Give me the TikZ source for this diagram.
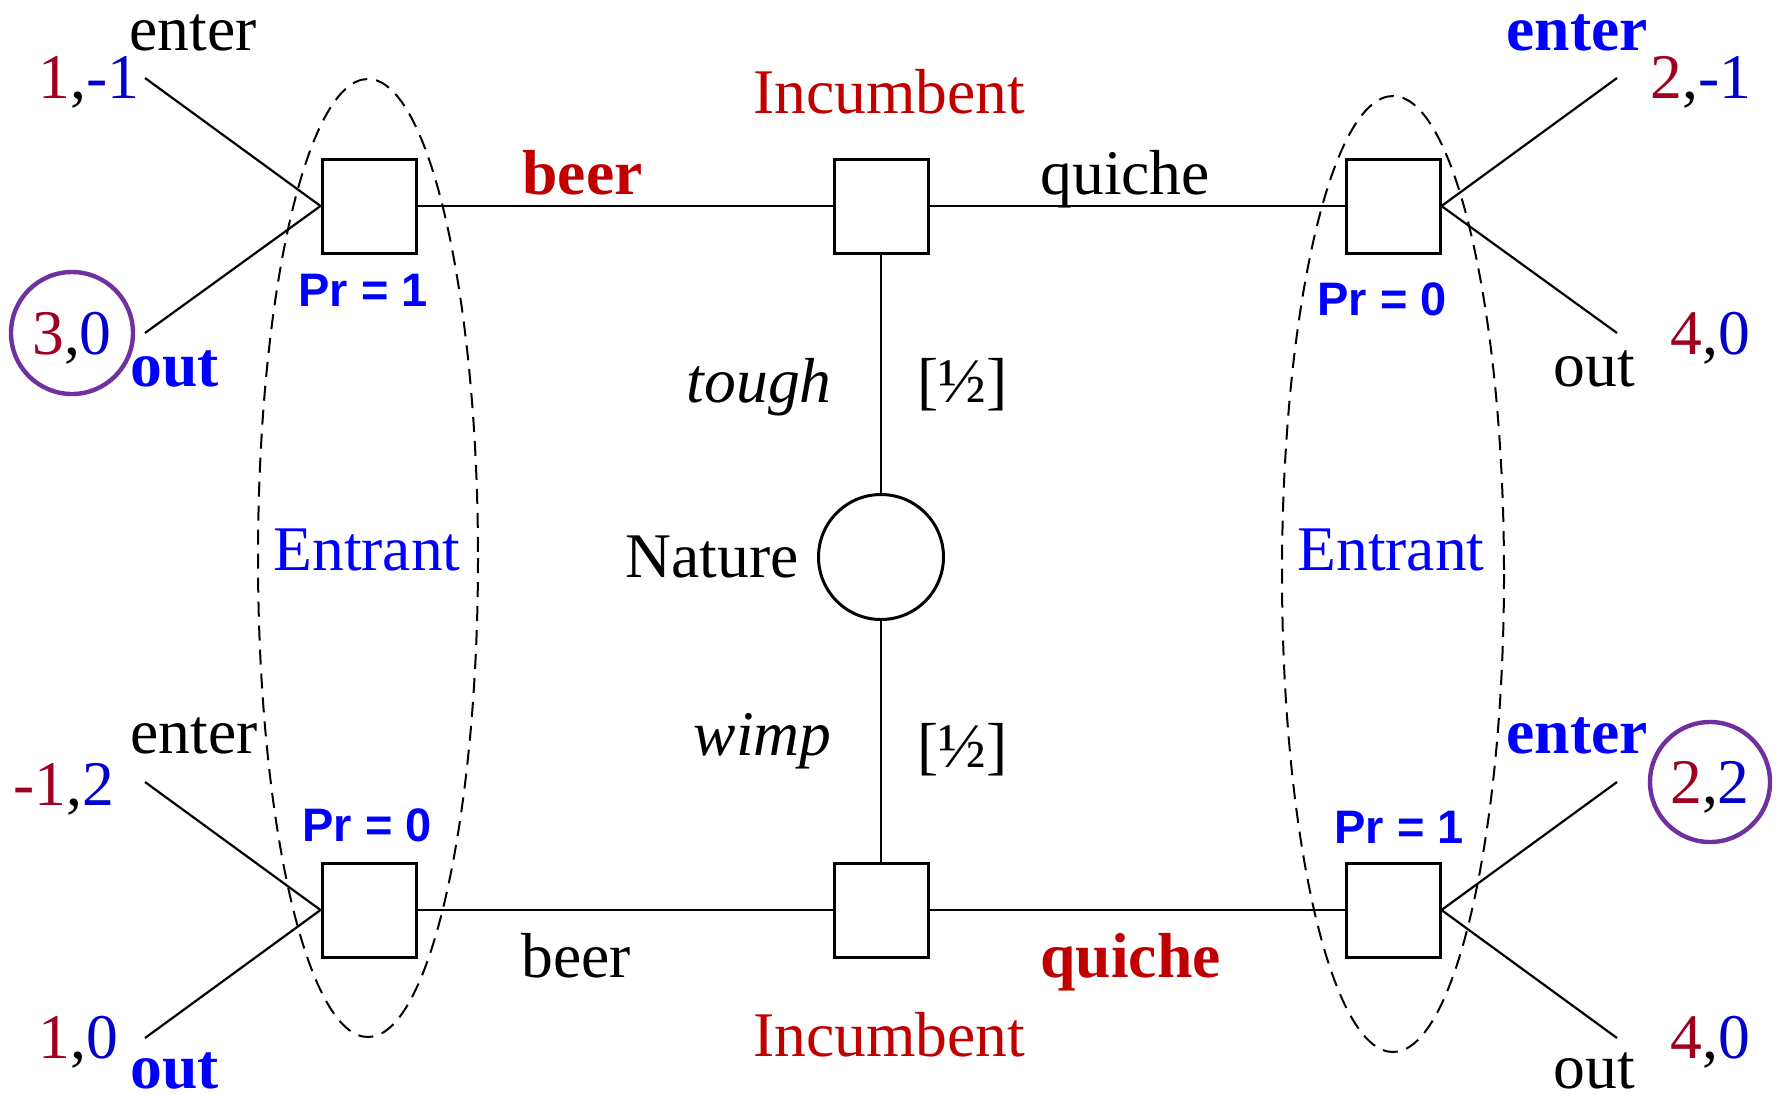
\documentclass[tikz,border=0pt]{standalone}
\usepackage{fontspec}
\setmainfont{Liberation Serif}
\newfontfamily\probfont{Liberation Sans}
\usetikzlibrary{positioning}
\definecolor{IncRed}{RGB}{192, 0, 0}
\definecolor{PayRed}{RGB}{160, 0, 32}
\definecolor{PayBlue}{RGB}{0, 0, 200}
\definecolor{EntBlue}{RGB}{0, 0, 255}
\definecolor{EqPurple}{RGB}{112, 48, 160}

\newcommand{\pay}[2]{{\color{PayRed}#1},{\color{PayBlue}#2}}

\begin{document}
\begin{tikzpicture}[
        x=0.5pt, y=-0.5pt,
        font=\fontsize{31.8}{38}\selectfont,
        decbox/.style={rectangle, draw, line width=1.5pt, minimum size=47pt, inner sep=0pt},
        chance/.style={circle, draw, line width=1.5pt, minimum size=62.5pt, inner sep=0pt},
        infoset/.style={draw, line width=1pt, dash pattern=on 7.5pt off 4.5pt},
        eqring/.style={circle, draw=EqPurple, line width=2.2pt, inner sep=0pt},
        lbl/.style={inner sep=0pt},
        boldlbl/.style={inner sep=0pt, font=\fontsize{31.8}{38}\selectfont\bfseries},
        problbl/.style={inner sep=0pt, text=EntBlue, font=\probfont\bfseries\fontsize{23.5}{28}\selectfont},
        branch/.style={line width=1.1pt}
      ]
        \useasboundingbox (0,0) rectangle (1777,1094);

        % Decision nodes and Nature
        \node[decbox] (tl) at (369,206) {};
        \node[decbox] (tc) at (881,206) {};
        \node[decbox] (tr) at (1393,206) {};
        \node[decbox] (bl) at (369,910) {};
        \node[decbox] (bc) at (881,910) {};
        \node[decbox] (br) at (1393,910) {};
        \node[chance] (nature) at (881,557) {};

        % Terminal points
        \coordinate (tlEnter) at (145,78);
        \coordinate (tlOut) at (145,333);
        \coordinate (blEnter) at (145,782);
        \coordinate (blOut) at (145,1038);
        \coordinate (trEnter) at (1617,78);
        \coordinate (trOut) at (1617,333);
        \coordinate (brEnter) at (1617,782);
        \coordinate (brOut) at (1617,1038);

        % Information sets of the entrant
        \draw[infoset] (368,558) ellipse [x radius=110, y radius=479];
        \draw[infoset] (1393,574) ellipse [x radius=111, y radius=478];

        % Connections
        \draw[branch] (nature) -- (tc);
        \draw[branch] (nature) -- (bc);
        \draw[branch] (tc) -- (tl);
        \draw[branch] (tc) -- (tr);
        \draw[branch] (bc) -- (bl);
        \draw[branch] (bc) -- (br);
        \draw[branch] (tl.west) -- (tlEnter);
        \draw[branch] (tl.west) -- (tlOut);
        \draw[branch] (bl.west) -- (blEnter);
        \draw[branch] (bl.west) -- (blOut);
        \draw[branch] (tr.east) -- (trEnter);
        \draw[branch] (tr.east) -- (trOut);
        \draw[branch] (br.east) -- (brEnter);
        \draw[branch] (br.east) -- (brOut);

        % Nature and types
        \node[lbl, anchor=base west] (natureLbl) at (625,577) {Nature};
        \node[lbl, anchor=base east] (toughLbl) at (832,402) {\itshape tough};
        \node[lbl, anchor=base west] (toughPr) at (917,402) {[½]};
        \node[lbl, anchor=base east] (wimpLbl) at (832,755) {\itshape wimp};
        \node[lbl, anchor=base west] (wimpPr) at (917,767) {[½]};

        % Incumbent and its messages
        \node[lbl, anchor=base, text=IncRed] (incTop) at (889,113) {Incumbent};
        \node[lbl, anchor=base, text=IncRed] (incBot) at (889,1056) {Incumbent};
        \node[boldlbl, anchor=base west, text=IncRed] (beerTop) at (522,194) {beer};
        \node[lbl, anchor=base west] (quicheTop) at (1040,194) {quiche};
        \node[lbl, anchor=base west] (beerBot) at (521,977) {beer};
        \node[boldlbl, anchor=base west, text=IncRed] (quicheBot) at (1040,977) {quiche};

        % Entrant labels and beliefs
        \node[lbl, anchor=base, text=EntBlue] (entLeft) at (367,570) {Entrant};
        \node[lbl, anchor=base, text=EntBlue] (entRight) at (1391,570) {Entrant};
        \node[problbl, anchor=base west] (prTL) at (298,306) {Pr = 1};
        \node[problbl, anchor=base west] (prTR) at (1317,315) {Pr = 0};
        \node[problbl, anchor=base west] (prBL) at (302,841) {Pr = 0};
        \node[problbl, anchor=base west] (prBR) at (1334,843) {Pr = 1};

        % Left actions and payoffs
        \node[lbl, anchor=base west] (enterTL) at (129,50) {enter};
        \node[boldlbl, anchor=base west, text=EntBlue] (outTL) at (130,386) {out};
        \node[lbl, anchor=base west] (payTLe) at (38,98) {\pay{1}{-1}};
        \node[eqring, minimum size=61pt, text depth=0pt] (payTLo) at (72,333) {\pay{3}{0}};
        \node[lbl, anchor=base west] (enterBL) at (130,753) {enter};
        \node[boldlbl, anchor=base west, text=EntBlue] (outBL) at (130,1088) {out};
        \node[lbl, anchor=base west] (payBLe) at (13,805) {\pay{-1}{2}};
        \node[lbl, anchor=base west] (payBLo) at (38,1058) {\pay{1}{0}};

        % Right actions and payoffs
        \node[boldlbl, anchor=base west, text=EntBlue] (enterTR) at (1506,50) {enter};
        \node[lbl, anchor=base west] (outTR) at (1553,386) {out};
        \node[lbl, anchor=base west] (payTRe) at (1650,98) {\pay{2}{-1}};
        \node[lbl, anchor=base west] (payTRo) at (1670,354) {\pay{4}{0}};
        \node[boldlbl, anchor=base west, text=EntBlue] (enterBR) at (1506,753) {enter};
        \node[lbl, anchor=base west] (outBR) at (1553,1088) {out};
        \node[eqring, minimum size=60pt, text depth=0pt] (payBRe) at (1710,782) {\pay{2}{2}};
        \node[lbl, anchor=base west] (payBRo) at (1670,1058) {\pay{4}{0}};
      \end{tikzpicture}
\end{document}
